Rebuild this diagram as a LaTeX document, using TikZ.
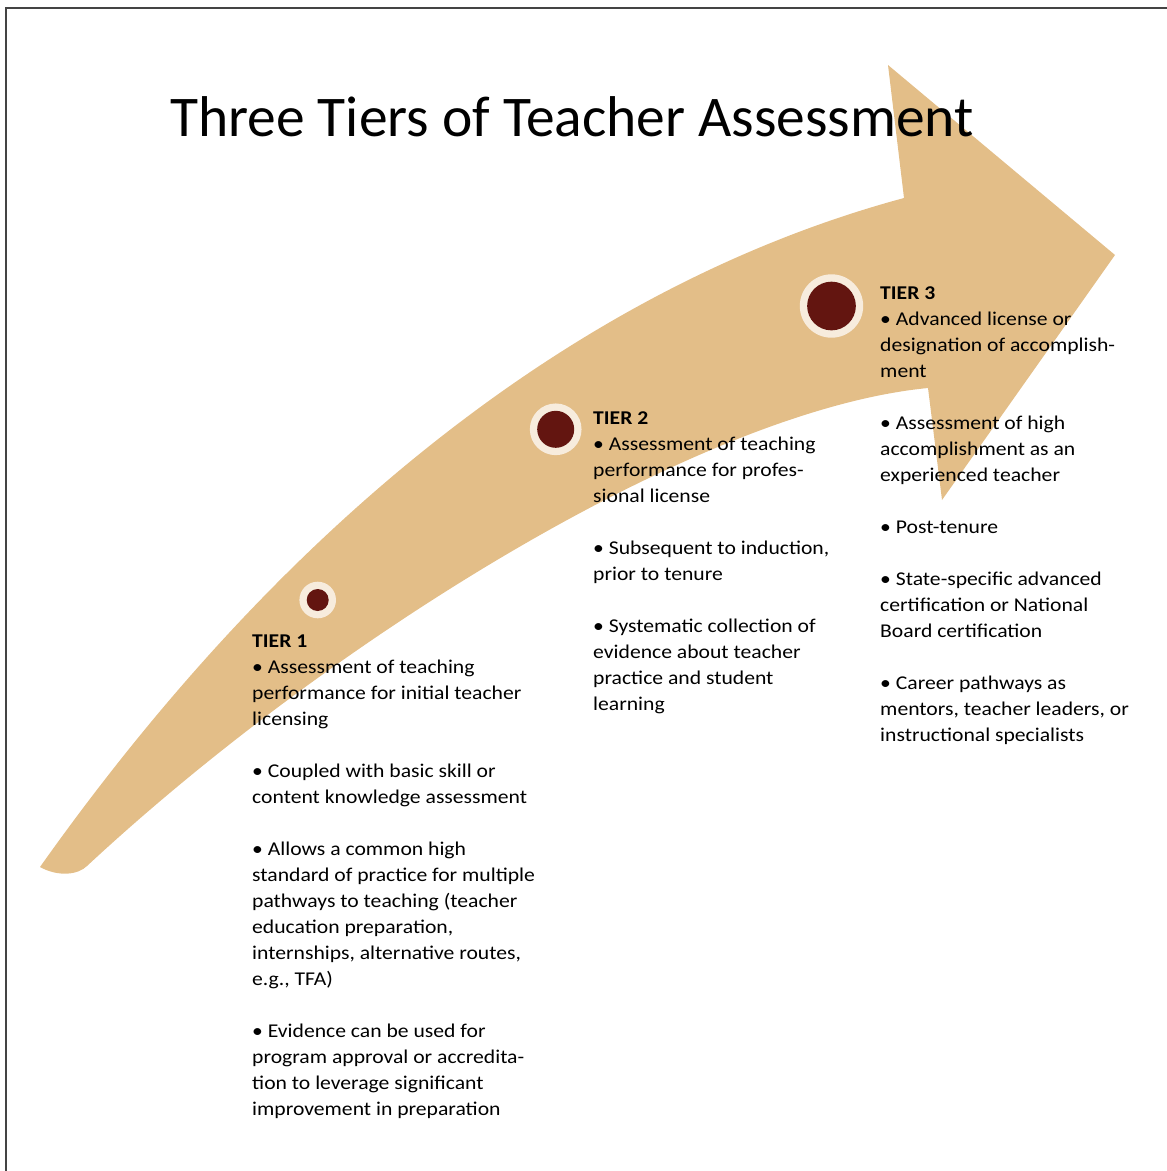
\documentclass[tikz,border=0pt]{standalone}
\usepackage{fontspec}
\setmainfont{Carlito}
\newfontfamily\bodyfont[FakeStretch=1.11]{Carlito}
\definecolor{arrowtan}{HTML}{E3BE88}
\definecolor{ringcream}{HTML}{F7ECDD}
\definecolor{dotred}{HTML}{631510}
\definecolor{framegray}{HTML}{444444}
\begin{document}
\begin{tikzpicture}[x=1pt,y=-1pt,
  tiertext/.style={anchor=north west, inner sep=0pt, align=left, font=\bodyfont\fontsize{19.5}{26}\selectfont},
  ring/.style={circle, fill=ringcream, inner sep=0pt},
  dot/.style={circle, fill=dotred, inner sep=0pt}]
\useasboundingbox (0,0) rectangle (1167,1171);
\draw[framegray, line width=2pt] (5.5,1171) -- (5.5,7.5) -- (1167,7.5);
% arrow
\fill[arrowtan] (40,867) .. controls (300,500) and (600,280) .. (904,198)
  -- (888,65) -- (1115,255) -- (942,500) -- (928,388)
  .. controls (700,410) and (330,640) .. (87,866)
  .. controls (78,875) and (58,877) .. (40,867) -- cycle;
% title
\node[anchor=base west, inner sep=0pt, font=\fontsize{57.5}{70}\selectfont] (title) at (170,136) {Three Tiers of Teacher Assessment};
% circles
\node[ring, minimum size=36.6pt] (r1) at (317.7,600) {};
\node[dot, minimum size=22pt] (d1) at (r1) {};
\node[ring, minimum size=51.7pt] (r2) at (555.7,429.3) {};
\node[dot, minimum size=37pt] (d2) at (r2) {};
\node[ring, minimum size=63.4pt] (r3) at (831.5,306) {};
\node[dot, minimum size=48.7pt] (d3) at (r3) {};
% texts
\node[tiertext] (t1) at (252,635) {\textbf{TIER 1}\\
• Assessment of teaching\\
performance for initial teacher\\
licensing\\[26pt]
• Coupled with basic skill or\\
content knowledge assessment\\[26pt]
• Allows a common high\\
standard of practice for multiple\\
pathways to teaching (teacher\\
education preparation,\\
internships, alternative routes,\\
e.g., TFA)\\[26pt]
• Evidence can be used for\\
program approval or accredita-\\
tion to leverage significant\\
improvement in preparation};
\node[tiertext] (t2) at (593,411.7) {\textbf{TIER 2}\\
• Assessment of teaching\\
performance for profes-\\
sional license\\[26pt]
• Subsequent to induction,\\
prior to tenure\\[26pt]
• Systematic collection of\\
evidence about teacher\\
practice and student\\
learning};
\node[tiertext] (t3) at (880,286.7) {\textbf{TIER 3}\\
• Advanced license or\\
designation of accomplish-\\
ment\\[26pt]
• Assessment of high\\
accomplishment as an\\
experienced teacher\\[26pt]
• Post-tenure\\[26pt]
• State-specific advanced\\
certification or National\\
Board certification\\[26pt]
• Career pathways as\\
mentors, teacher leaders, or\\
instructional specialists};
\end{tikzpicture}
\end{document}
